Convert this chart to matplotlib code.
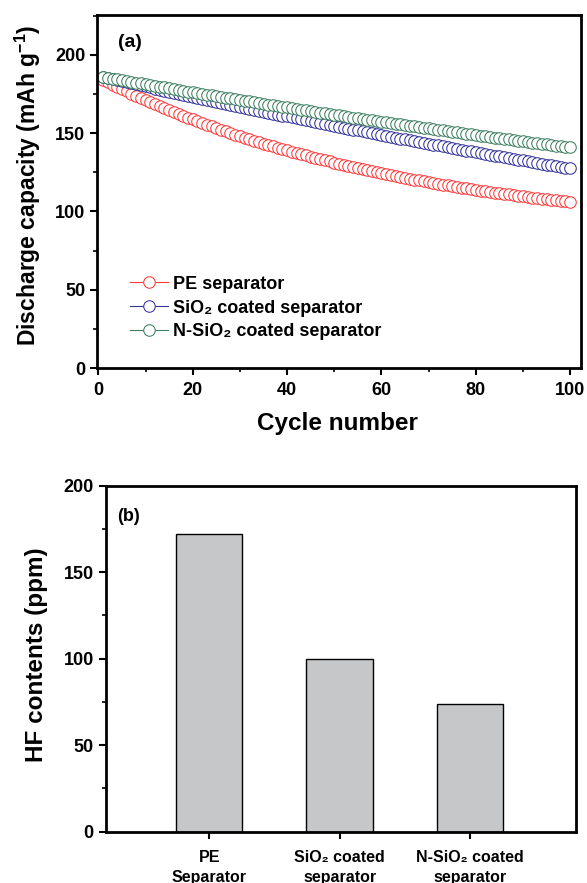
import matplotlib
matplotlib.use('Agg')
import matplotlib.pyplot as plt
from matplotlib.ticker import MultipleLocator

plt.rcParams['font.family'] = ['Liberation Sans', 'DejaVu Sans']
plt.rcParams['font.weight'] = 'bold'
plt.rcParams['axes.labelweight'] = 'bold'
plt.rcParams['mathtext.fontset'] = 'custom'
plt.rcParams['mathtext.rm'] = 'Liberation Sans:bold'
plt.rcParams['mathtext.bf'] = 'Liberation Sans:bold'
plt.rcParams['mathtext.default'] = 'bf'

# (a) discharge capacity vs cycle
cycles = list(range(1, 101))
pe_cap = [184.1, 182.5, 181.0, 179.6, 178.1, 176.7, 175.3, 173.9, 172.5, 171.2,
          169.8, 168.5, 167.2, 166.0, 164.7, 163.5, 162.3, 161.1, 159.9, 158.8,
          157.6, 156.5, 155.4, 154.3, 153.3, 152.2, 151.2, 150.1, 149.1, 148.2,
          147.2, 146.2, 145.3, 144.3, 143.4, 142.5, 141.6, 140.8, 139.9, 139.0,
          138.2, 137.4, 136.6, 135.8, 135.0, 134.2, 133.5, 132.7, 132.0, 131.2,
          130.5, 129.8, 129.1, 128.4, 127.8, 127.1, 126.5, 125.8, 125.2, 124.5,
          123.9, 123.3, 122.7, 122.1, 121.6, 121.0, 120.4, 119.9, 119.3, 118.8,
          118.3, 117.8, 117.2, 116.7, 116.3, 115.8, 115.3, 114.8, 114.3, 113.9,
          113.4, 113.0, 112.6, 112.1, 111.7, 111.3, 110.9, 110.5, 110.1, 109.7,
          109.3, 108.9, 108.5, 108.2, 107.8, 107.4, 107.1, 106.7, 106.4, 106.1]
sio2_cap = [186.0, 185.3, 184.6, 183.9, 183.3, 182.6, 181.9, 181.2, 180.5, 179.9,
            179.2, 178.5, 177.9, 177.2, 176.5, 175.9, 175.2, 174.6, 173.9, 173.3,
            172.6, 172.0, 171.3, 170.7, 170.0, 169.4, 168.8, 168.1, 167.5, 166.9,
            166.2, 165.6, 165.0, 164.4, 163.7, 163.1, 162.5, 161.9, 161.3, 160.7,
            160.1, 159.5, 158.9, 158.3, 157.7, 157.1, 156.5, 155.9, 155.3, 154.7,
            154.1, 153.5, 152.9, 152.3, 151.8, 151.2, 150.6, 150.0, 149.5, 148.9,
            148.3, 147.8, 147.2, 146.6, 146.1, 145.5, 144.9, 144.4, 143.8, 143.3,
            142.7, 142.2, 141.6, 141.1, 140.5, 140.0, 139.5, 138.9, 138.4, 137.9,
            137.3, 136.8, 136.3, 135.7, 135.2, 134.7, 134.2, 133.6, 133.1, 132.6,
            132.1, 131.6, 131.0, 130.5, 130.0, 129.5, 129.0, 128.5, 128.0, 127.6]
nsio2_cap = [186.0, 185.4, 184.9, 184.4, 183.8, 183.3, 182.8, 182.3, 181.8, 181.2,
             180.7, 180.2, 179.7, 179.2, 178.7, 178.2, 177.7, 177.1, 176.6, 176.1,
             175.6, 175.1, 174.6, 174.2, 173.7, 173.2, 172.7, 172.2, 171.7, 171.2,
             170.7, 170.3, 169.8, 169.3, 168.8, 168.3, 167.9, 167.4, 166.9, 166.5,
             166.0, 165.5, 165.1, 164.6, 164.1, 163.7, 163.2, 162.8, 162.3, 161.8,
             161.4, 160.9, 160.5, 160.0, 159.6, 159.1, 158.7, 158.3, 157.8, 157.4,
             156.9, 156.5, 156.1, 155.6, 155.2, 154.8, 154.3, 153.9, 153.5, 153.1,
             152.6, 152.2, 151.8, 151.4, 151.0, 150.5, 150.1, 149.7, 149.3, 148.9,
             148.5, 148.1, 147.6, 147.2, 146.8, 146.4, 146.0, 145.6, 145.2, 144.8,
             144.4, 144.0, 143.6, 143.2, 142.8, 142.5, 142.1, 141.7, 141.3, 141.0]
series_labels = ['PE separator', 'SiO₂ coated separator', 'N-SiO₂ coated separator']
series_colors = ['#ff3a3a', '#34349c', '#3d8060']

# (b) HF contents
hf_names = ['PE\nSeparator', 'SiO₂ coated\nseparator', 'N-SiO₂ coated\nseparator']
hf_values = [172, 100, 74]

fig = plt.figure(figsize=(5.87, 8.83), dpi=100)
ax1 = fig.add_axes([0.1652, 0.5832, 0.8246, 0.3998])
ax2 = fig.add_axes([0.180, 0.0581, 0.8008, 0.3919])

for vals, lab, col in zip([pe_cap, sio2_cap, nsio2_cap], series_labels, series_colors):
    ax1.plot(cycles, vals, '-o', color=col, lw=0.8, ms=8.3, mfc='white',
             mec=col, mew=0.75, label=lab)

ax1.set_xlim(-0.3, 102.3)
ax1.set_ylim(0, 225.5)
ax1.xaxis.set_major_locator(MultipleLocator(20))
ax1.xaxis.set_minor_locator(MultipleLocator(10))
ax1.yaxis.set_major_locator(MultipleLocator(50))
ax1.yaxis.set_minor_locator(MultipleLocator(25))
ax1.set_xlabel('Cycle number', fontsize=17.5, va='center')
ax1.xaxis.set_label_coords(0.497, -0.156)
ax1.set_ylabel('Discharge capacity (mAh g$^{-1}$)', fontsize=16.5, va='center')
ax1.yaxis.set_label_coords(-0.1426, 0.518)
ax1.text(0.043, 0.945, '(a)', transform=ax1.transAxes, fontsize=14,
         fontweight='bold', va='top')
ax1.legend(loc='lower left', bbox_to_anchor=(0.068, 0.078), frameon=False,
           fontsize=13, handlelength=2.1, handletextpad=0.3, labelspacing=0.38,
           borderaxespad=0, borderpad=0)

ax2.bar([1, 2, 3], hf_values, width=0.51, color='#c6c7c9', edgecolor='black', linewidth=1.0)
ax2.set_xlim(0.206, 3.81)
ax2.set_ylim(0, 200)
ax2.set_xticks([1, 2, 3])
ax2.set_xticklabels(hf_names, linespacing=1.4)
ax2.yaxis.set_major_locator(MultipleLocator(50))
ax2.yaxis.set_minor_locator(MultipleLocator(25))
ax2.set_ylabel('HF contents (ppm)', fontsize=17.5, va='center')
ax2.yaxis.set_label_coords(-0.148, 0.511)
ax2.text(0.024, 0.936, '(b)', transform=ax2.transAxes, fontsize=13,
         fontweight='bold', va='top')

for ax in (ax1, ax2):
    for s in ax.spines.values():
        s.set_linewidth(2.0)
    ax.tick_params(which='major', direction='out', length=5, width=1.5, labelsize=13)
    ax.tick_params(which='minor', direction='out', length=3, width=1.2)
    ax.tick_params(top=False, right=False)
ax1.tick_params(axis='x', which='major', pad=5)
ax2.tick_params(axis='x', which='minor', bottom=False)
ax2.tick_params(axis='x', which='major', labelsize=11.5, pad=8)

fig.savefig('out.png', dpi=100)
